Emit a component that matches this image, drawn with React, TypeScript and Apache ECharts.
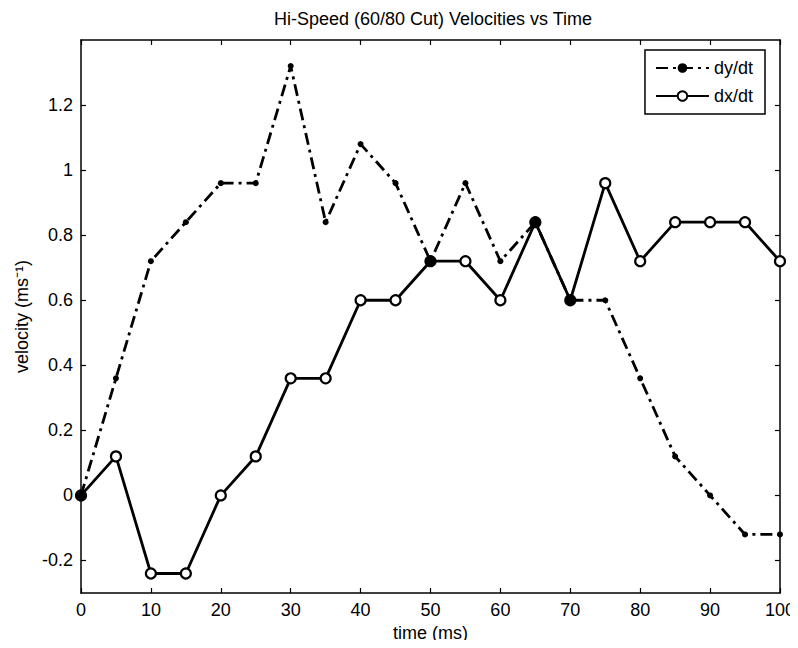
import React, { useEffect, useRef } from "react";
import * as echarts from "echarts";

const times = [0, 5, 10, 15, 20, 25, 30, 35, 40, 45, 50, 55, 60, 65, 70, 75, 80, 85, 90, 95, 100];
const dyDt = [0, 0.36, 0.72, 0.84, 0.96, 0.96, 1.32, 0.84, 1.08, 0.96, 0.72, 0.96, 0.72, 0.84, 0.6, 0.6, 0.36, 0.12, 0, -0.12, -0.12];
const dxDt = [0, 0.12, -0.24, -0.24, 0, 0.12, 0.36, 0.36, 0.6, 0.6, 0.72, 0.72, 0.6, 0.84, 0.6, 0.96, 0.72, 0.84, 0.84, 0.84, 0.72];
const filledDx = [0, 50, 65, 70];
const yTicks = [-0.2, 0, 0.2, 0.4, 0.6, 0.8, 1, 1.2];

const FONT = "Liberation Sans, Arial, Helvetica, sans-serif";

export default function App() {
  const ref = useRef<HTMLDivElement>(null);
  useEffect(() => {
    if (!ref.current) return;
    const chart = echarts.init(ref.current, undefined, { renderer: "svg" });
    const axisLine = { show: true, onZero: false, lineStyle: { color: "#000", width: 1.5 } };
    const tick = { show: true, inside: true, length: 5, lineStyle: { color: "#000", width: 1.2 } };
    chart.setOption({
      animation: false,
      backgroundColor: "#fff",
      title: {
        text: "Hi-Speed (60/80 Cut) Velocities vs Time",
        left: 428,
        textAlign: "center",
        top: 5,
        textStyle: { fontFamily: FONT, fontSize: 18, fontWeight: "normal", color: "#000" },
      },
      legend: {
        orient: "vertical",
        right: 33,
        top: 50,
        padding: [9, 12, 9, 10],
        itemGap: 10,
        itemWidth: 53,
        itemHeight: 12,
        borderColor: "#000",
        borderWidth: 1.5,
        backgroundColor: "#fff",
        textStyle: { fontFamily: FONT, fontSize: 18, color: "#000" },
        data: ["dy/dt", "dx/dt"],
      },
      grid: { left: 81, right: 16, top: 40, bottom: 55 },
      xAxis: [
        {
          type: "value",
          min: 0,
          max: 100,
          interval: 10,
          name: "time (ms)",
          nameLocation: "middle",
          nameGap: 30,
          nameTextStyle: { fontFamily: FONT, fontSize: 18, color: "#000" },
          axisLine,
          axisTick: tick,
          axisLabel: { fontFamily: FONT, fontSize: 18, color: "#000", margin: 8 },
          splitLine: { show: false },
        },
        {
          type: "value",
          position: "top",
          min: 0,
          max: 100,
          interval: 10,
          axisLine,
          axisTick: tick,
          axisLabel: { show: false },
          splitLine: { show: false },
        },
      ],
      yAxis: [
        {
          type: "value",
          min: -0.3,
          max: 1.4,
          name: "velocity (ms⁻¹)",
          nameLocation: "middle",
          nameGap: 42,
          nameTextStyle: { fontFamily: FONT, fontSize: 18, color: "#000" },
          axisLine,
          axisTick: { ...tick, customValues: yTicks },
          axisLabel: { fontFamily: FONT, fontSize: 18, color: "#000", margin: 8, customValues: yTicks },
          splitLine: { show: false },
        },
        {
          type: "value",
          position: "right",
          min: -0.3,
          max: 1.4,
          axisLine,
          axisTick: { ...tick, customValues: yTicks },
          axisLabel: { show: false, customValues: yTicks },
          splitLine: { show: false },
        },
      ],
      series: [
        {
          name: "dy/dt",
          type: "line",
          data: times.map((t, i) => [t, dyDt[i]]),
          symbol: "circle",
          symbolSize: 6,
          itemStyle: { color: "#000" },
          lineStyle: { color: "#000", width: 2.8, type: [12, 5, 3, 5] },
          z: 2,
        },
        {
          name: "dx/dt",
          type: "line",
          data: times.map((t, i) => ({
            value: [t, dxDt[i]],
            itemStyle: filledDx.includes(t) ? { color: "#000" } : undefined,
          })),
          symbol: "circle",
          symbolSize: 10,
          showAllSymbol: true,
          itemStyle: { color: "#fff", borderColor: "#000", borderWidth: 2.2 },
          lineStyle: { color: "#000", width: 2.8 },
          z: 3,
        },
      ],
    });
    return () => chart.dispose();
  }, []);
  return <div ref={ref} style={{ width: 798, height: 648, margin: -8 }} />;
}
